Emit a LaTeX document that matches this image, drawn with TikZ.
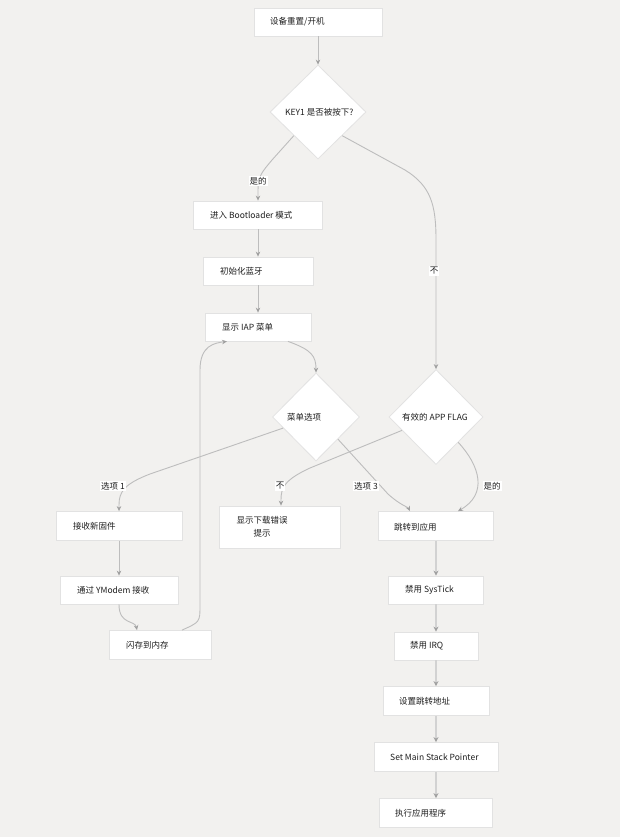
\documentclass[tikz,border=0pt]{standalone}
\usepackage{fontspec}
\setmainfont{Noto Sans CJK SC}
\usetikzlibrary{shapes.geometric,arrows.meta,calc}
\definecolor{bg}{HTML}{F2F1EF}
\definecolor{bord}{HTML}{E2E2E2}
\definecolor{ln}{HTML}{BDBDBD}
\definecolor{tip}{HTML}{A0A0A0}
\definecolor{lnr}{HTML}{D2D2D2}
\definecolor{txt}{HTML}{1E1E1E}
\tikzset{
  box/.style={draw=bord,fill=white,line width=0.8pt,inner sep=0pt},
  dia/.style={diamond,draw=bord,fill=white,line width=0.8pt,inner sep=0pt},
  lab/.style={anchor=west,inner sep=0pt,font=\fontsize{8.5}{10}\selectfont,text=txt},
  elab/.style={fill=white,inner sep=1pt,font=\fontsize{8.5}{10}\selectfont,text=txt},
  conn/.style={draw=ln,line width=0.9pt,-{Stealth[length=5pt,width=4.5pt,color=tip]}},
  connr/.style={draw=lnr,line width=2pt,-{Stealth[length=5pt,width=5pt,color=tip]}},
}
\begin{document}
\begin{tikzpicture}[x=1pt,y=-1pt]
\fill[bg] (0,0) rectangle (620,837);
\useasboundingbox (0,0) rectangle (620,837);
% boxes
\node[box,minimum width=128,minimum height=28] (rst) at (318,22) {};
\node[dia,minimum width=96,minimum height=94] (key) at (318,112) {};
\node[box,minimum width=129,minimum height=28] (boot) at (258,215) {};
\node[box,minimum width=110,minimum height=28] (init) at (258,271) {};
\node[box,minimum width=106,minimum height=28] (menu) at (258,327) {};
\node[dia,minimum width=87,minimum height=88] (opt) at (316,417) {};
\node[dia,minimum width=94,minimum height=95] (flag) at (436,417) {};
\node[box,minimum width=126,minimum height=29] (recv) at (119,526) {};
\node[box,minimum width=118,minimum height=28] (ym) at (119,590) {};
\node[box,minimum width=102,minimum height=29] (flash) at (160,645) {};
\node[box,minimum width=121,minimum height=42] (err) at (280,527) {};
\node[box,minimum width=115,minimum height=29] (jump) at (436,526) {};
\node[box,minimum width=95,minimum height=28] (sys) at (436,590) {};
\node[box,minimum width=84,minimum height=28] (irq) at (436,646) {};
\node[box,minimum width=106,minimum height=29] (addr) at (436,701) {};
\node[box,minimum width=124,minimum height=29] (msp) at (436,757) {};
\node[box,minimum width=113,minimum height=29] (exec) at (436,813) {};
% texts
\node[lab] (t-rst) at (270,22) {设备重置/开机};
\node[lab] (t-key) at (285,112) {KEY1 是否被按下?};
\node[lab] (t-boot) at (210,215) {进入 Bootloader 模式};
\node[lab] (t-init) at (220,271) {初始化蓝牙};
\node[lab] (t-menu) at (222,327) {显示 IAP 菜单};
\node[lab] (t-opt) at (287,417) {菜单选项};
\node[lab] (t-flag) at (402,417) {有效的 APP FLAG};
\node[lab] (t-recv) at (73,526) {接收新固件};
\node[lab] (t-ym) at (77,590) {通过 YModem 接收};
\node[lab] (t-flash) at (126,645) {闪存到内存};
\node[lab,anchor=center,align=center,font=\fontsize{8.5}{13}\selectfont] (t-err) at (262,527) {显示下载错误\\提示};
\node[lab] (t-jump) at (394,527) {跳转到应用};
\node[lab] (t-sys) at (405,590) {禁用 SysTick};
\node[lab] (t-irq) at (410,646) {禁用 IRQ};
\node[lab] (t-addr) at (399,701) {设置跳转地址};
\node[lab] (t-msp) at (390,757) {Set Main Stack Pointer};
\node[lab] (t-exec) at (395,813) {执行应用程序};
% connectors
\draw[conn] (rst.south) -- (key.north);
\draw[conn] (key.south west) -- (272,160) .. controls (262,172) and (258,176) .. (258,190) -- (boot.north);
\draw[conn] (key.south east) -- (405,170) .. controls (431,186) and (436,205) .. (436,240) -- (flag.north);
\draw[conn] (boot.south) -- (init.north);
\draw[conn] (init.south) -- (menu.north);
\draw[conn] ($(menu.south)+(30,0)$) .. controls (312,350) and (316,356) .. (opt.north);
\draw[conn] ($(opt.west)!0.25!(opt.south)$) -- (150,474) .. controls (124,484) and (119,492) .. (119,505) -- (recv.north);
\draw[conn] ($(opt.south)!0.5!(opt.east)$) -- (388,494) .. controls (400,505) and (408,507) .. ($(jump.north)+(-26,0)$);
\draw[conn] ($(flag.west)!0.28!(flag.south)$) -- (310,468) .. controls (284,480) and (281,488) .. (281,500) -- ($(err.north)+(1,0)$);
\draw[conn] ($(flag.south)!0.47!(flag.east)$) .. controls (480,466) and (488,494) .. ($(jump.north)+(22,0)$);
\draw[conn] (recv.south) -- (ym.north);
\draw[conn] (ym.south) .. controls (119,625) and (135,620) .. ($(flash.north)+(-23,0)$);
\draw[conn] ($(flash.north)+(22,0)$) .. controls (200,622) .. (200,605) -- (200,370) .. controls (200,345) and (215,343) .. ($(menu.south)+(-31,0)$);
\draw[connr] (jump.south) -- (sys.north);
\draw[connr] (sys.south) -- (irq.north);
\draw[connr] (irq.south) -- (addr.north);
\draw[connr] (addr.south) -- (msp.north);
\draw[connr] (msp.south) -- (exec.north);
% edge labels
\node[elab] (l-yes1) at (258,181) {是的};
\node[elab] (l-no1) at (434,271) {不};
\node[elab] (l-op1) at (113,486) {选项 1};
\node[elab] (l-op3) at (366,486) {选项 3};
\node[elab] (l-no2) at (280,486) {不};
\node[elab] (l-yes2) at (492,486) {是的};
\end{tikzpicture}
\end{document}
